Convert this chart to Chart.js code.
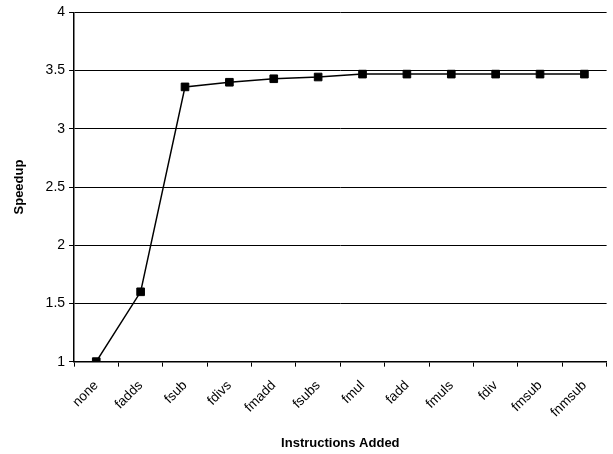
<!DOCTYPE html>
<html>
<head>
<meta charset="utf-8">
<script src="https://cdn.jsdelivr.net/npm/chart.js@4"></script>
<style>
  html, body { margin: 0; padding: 0; background: #fff; }
  #wrap { width: 613px; height: 454px; position: relative; }
</style>
</head>
<body>
<div id="wrap"><canvas id="myChart"></canvas></div>
<script>
// data
const categories = ['none', 'fadds', 'fsub', 'fdivs', 'fmadd', 'fsubs', 'fmul', 'fadd', 'fmuls', 'fdiv', 'fmsub', 'fnmsub'];
const speedup = [1.0, 1.6, 3.36, 3.40, 3.43, 3.445, 3.47, 3.47, 3.47, 3.47, 3.47, 3.47];
const yTicks = [1, 1.5, 2, 2.5, 3, 3.5, 4];

const font = "'Liberation Sans', Arial, sans-serif";

const config = {
  type: 'line',
  data: {
    labels: categories,
    datasets: [{
      label: 'Speedup',
      data: speedup,
      borderColor: '#000',
      borderWidth: 1.5,
      pointStyle: 'rect',
      pointRadius: 5.4,
      pointBackgroundColor: '#000',
      pointBorderColor: '#000',
      pointBorderWidth: 1,
      tension: 0,
      fill: false
    }]
  },
  options: {
    responsive: true,
    maintainAspectRatio: false,
    animation: false,
    layout: { padding: { top: 6, right: 1, left: 12, bottom: 3 } },
    plugins: {
      legend: { display: false },
      tooltip: { enabled: false }
    },
    scales: {
      x: {
        offset: true,
        grid: {
          offset: true,
          drawOnChartArea: false,
          drawTicks: true,
          tickLength: 5,
          color: '#000'
        },
        border: { color: '#000', width: 1.5 },
        ticks: {
          color: '#000',
          font: { family: font, size: 13.5 },
          minRotation: 45,
          maxRotation: 45,
          padding: 11
        },
        title: {
          display: true,
          text: 'Instructions Added',
          color: '#000',
          font: { family: font, size: 13, weight: 'bold' },
          padding: { top: 4, bottom: 0 }
        }
      },
      y: {
        min: 1,
        max: 4,
        afterBuildTicks: axis => { axis.ticks = yTicks.map(v => ({ value: v })); },
        grid: {
          color: '#000',
          lineWidth: 1,
          tickLength: 5,
          drawTicks: true
        },
        border: { color: '#000', width: 1.5 },
        ticks: {
          color: '#000',
          font: { family: font, size: 14 },
          padding: 4,
          callback: v => String(v)
        },
        title: {
          display: true,
          text: 'Speedup',
          color: '#000',
          font: { family: font, size: 13, weight: 'bold' },
          padding: { top: 0, bottom: 14 }
        }
      }
    }
  }
};

const myChart = new Chart(document.getElementById('myChart'), config);
</script>
</body>
</html>
